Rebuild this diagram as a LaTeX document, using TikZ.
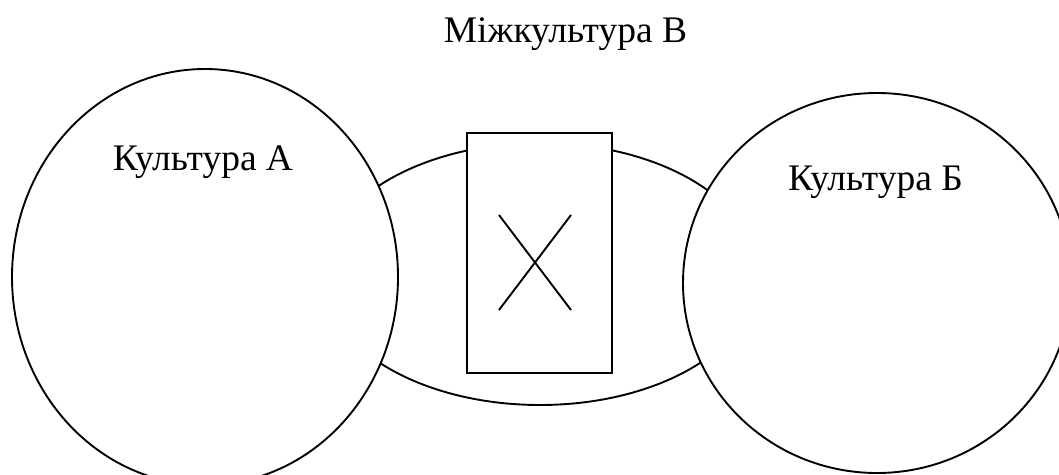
\documentclass[tikz,border=0pt]{standalone}
\usepackage{fontspec}
\setmainfont{Liberation Serif}
\usetikzlibrary{shapes.geometric}
\begin{document}
\begin{tikzpicture}[x=1pt,y=-1pt,
  shapeline/.style={draw=black, line width=1.9pt, fill=white, inner sep=0pt, outer sep=0pt},
  oval/.style={shapeline, ellipse},
  labeltext/.style={font=\fontsize{37.5}{44}\selectfont, inner sep=0pt, anchor=base}]
\useasboundingbox (0,0) rectangle (1059,474);
\node[oval, minimum width=436pt, minimum height=262pt] (mid) at (540,274) {};
\node[oval, minimum width=386pt, minimum height=416pt] (ca) at (205,277) {};
\node[oval, minimum width=388pt, minimum height=380pt] (cb) at (877,283) {};
\node[shapeline, rectangle, minimum width=145pt, minimum height=240pt] (box) at (539.5,253) {};
\coordinate (x1) at (499,215);
\coordinate (x2) at (571,310);
\coordinate (x3) at (571,215);
\coordinate (x4) at (499,310);
\draw[line width=1.9pt] (x1) -- (x2);
\draw[line width=1.9pt] (x3) -- (x4);
\node[labeltext] (tv) at (565.5,42) {Міжкультура В};
\node[labeltext] (ta) at (203,170) {Культура А};
\node[labeltext] (tb) at (875.5,190) {Культура Б};
\end{tikzpicture}
\end{document}
